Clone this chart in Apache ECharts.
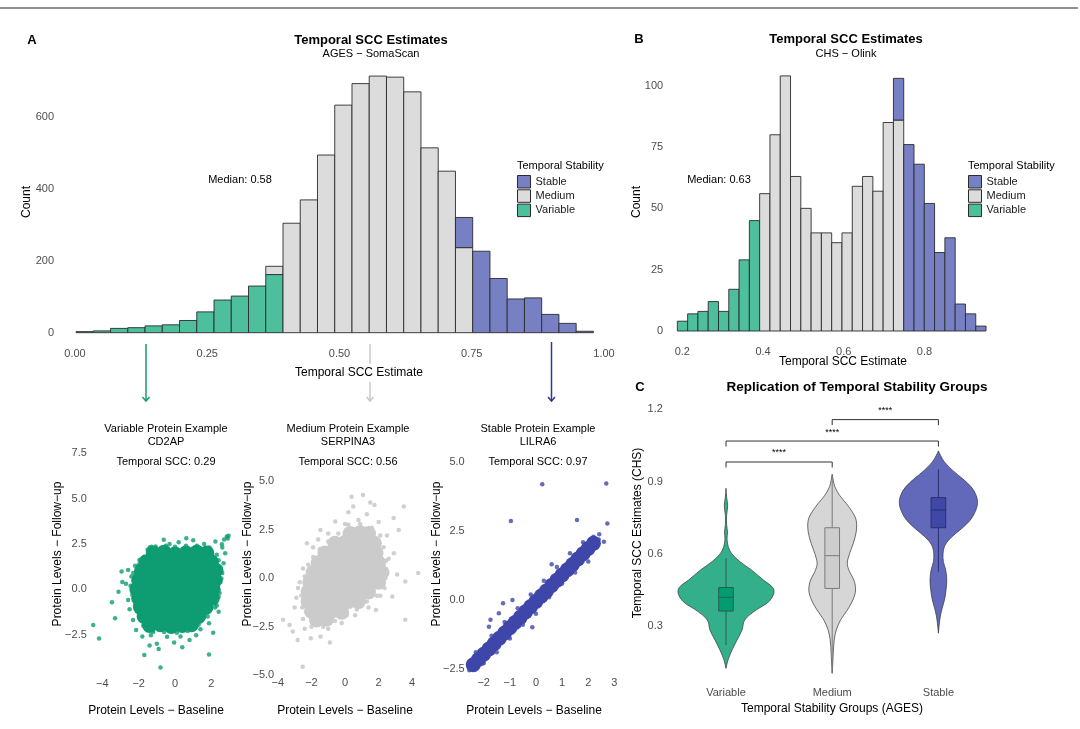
<!DOCTYPE html>
<html>
<head>
<meta charset="utf-8">
<script src="https://cdn.jsdelivr.net/npm/echarts@6/dist/echarts.min.js"></script>
<style>
  html, body { margin: 0; padding: 0; background: #fff; }
  #main { width: 1080px; height: 729px; }
</style>
</head>
<body>
<div id="main"></div>
<script>
var FONT = '"Liberation Sans", Arial, sans-serif';

// --- A: AGES SomaScan histogram (30 bins) ---
var aBinStart = 0.002, aBinWidth = 0.0326;
var aVariable = [3,5,12,14,19,22,34,58,91,102,130,162,0,0,0,0,0,0,0,0,0,0,0,0,0,0,0,0,0,0];
var aMedium   = [0,0,0,0,0,0,0,0,0,0,0,23,305,370,495,634,694,715,712,671,515,450,237,0,0,0,0,0,0,0];
var aStable   = [0,0,0,0,0,0,0,0,0,0,0,0,0,0,0,0,0,0,0,0,0,0,84,227,151,94,97,51,26,4];
var aXTicks = [0, 0.25, 0.5, 0.75, 1];
var aYTicks = [0, 200, 400, 600];

// --- B: CHS Olink histogram (30 bins) ---
var bBinStart = 0.1876, bBinWidth = 0.0255;
var bVariable = [4,7,8,12,8,17,29,45,0,0,0,0,0,0,0,0,0,0,0,0,0,0,0,0,0,0,0,0,0,0];
var bMedium   = [0,0,0,0,0,0,0,0,56,80,104,63,50,40,40,36,40,59,63,57,85,86,0,0,0,0,0,0,0,0];
var bStable   = [0,0,0,0,0,0,0,0,0,0,0,0,0,0,0,0,0,0,0,0,0,17,76,68,52,32,38,11,7,2];
var bXTicks = [0.2, 0.4, 0.6, 0.8];
var bYTicks = [0, 25, 50, 75, 100];

// --- example proteins: baseline vs follow-up ---
var varCore = [[-1.2,2.0],[-0.6,2.05],[0.0,1.95],[0.6,2.0],[1.2,2.05],[1.75,2.0],
  [-1.6,1.5],[-1.0,1.55],[-0.4,1.45],[0.2,1.5],[0.8,1.55],[1.4,1.5],[2.0,1.5],
  [-1.85,1.0],[-1.2,1.05],[-0.6,0.95],[0.0,1.0],[0.6,1.05],[1.2,0.95],[1.8,1.0],[2.25,1.05],
  [-2.0,0.5],[-1.4,0.55],[-0.8,0.45],[-0.2,0.5],[0.4,0.55],[1.0,0.45],[1.6,0.5],[2.2,0.5],
  [-2.1,0.0],[-1.5,0.05],[-0.9,-0.05],[-0.3,0.0],[0.3,0.05],[0.9,-0.05],[1.5,0.0],[2.1,0.0],
  [-2.0,-0.5],[-1.4,-0.45],[-0.8,-0.55],[-0.2,-0.5],[0.4,-0.45],[1.0,-0.55],[1.6,-0.5],[2.05,-0.5],
  [-1.9,-1.0],[-1.3,-0.95],[-0.7,-1.05],[-0.1,-1.0],[0.5,-0.95],[1.1,-1.05],[1.7,-1.0],
  [-1.7,-1.5],[-1.1,-1.45],[-0.5,-1.55],[0.1,-1.5],[0.7,-1.45],[1.3,-1.5],
  [-1.4,-2.0],[-0.8,-1.95],[-0.2,-2.05],[0.4,-2.0],[0.9,-1.95]];
var varEdge = [[-4.5,-1.97],[-4.18,-2.71],[-3.47,-0.72],[-3.11,-0.13],[-2.94,0.98],[-2.58,1.07],
  [-1.69,-3.63],[-0.8,-4.32],[1.87,-3.6],[2.4,-1.24],[2.76,1.99],[2.85,2.91],[2.7,2.75],[2.58,2.49],
  [2.22,2.64],[0.62,2.82],[-0.62,2.73],[-1.07,2.36],[-1.51,2.18],[-1.96,1.62],[-2.4,0.7],[-2.58,-0.59],
  [-2.31,-1.7],[-2.14,-2.25],[-1.33,-2.53],[-0.44,-2.62],[-0.05,-2.93],[0.8,-2.8],[1.16,-2.53],
  [1.87,-1.88],[2.4,-0.41],[2.67,1.44],[-2.7,0.3],[-2.5,-1.1],[-2.2,1.3],[-1.8,-2.6],[-1.0,-3.0],
  [0.3,-2.6],[1.4,-2.2],[2.2,-1.0],[2.5,0.4],[2.6,0.9],[2.3,1.9],[1.6,2.5],[1.0,2.7],[0.2,2.6],
  [-0.3,2.5],[-1.4,2.3],[2.9,2.8],[2.95,2.95],[2.6,2.3],[-3.3,-1.6],[-0.9,-3.3],[-1.4,-3.1],
  [0.4,-3.2],[2.1,-2.4],[-2.9,0.4],
  [-2.45,0.2],[-2.35,-0.3],[-2.3,0.9],[-2.2,-0.9],[-2.0,1.35],[-1.9,-1.5],[-1.7,1.8],[-1.75,-2.0],
  [-1.3,2.35],[-1.2,-2.35],[-0.5,2.4],[-0.6,-2.35],[0.0,2.35],[0.1,-2.4],[0.6,2.4],[0.7,-2.3],
  [1.2,2.4],[1.3,-1.95],[1.9,2.3],[1.8,-1.5],[2.4,1.6],[2.3,-0.9],[2.55,0.6],[2.45,-0.2],[2.5,1.2]];

var medCore = [[0.3,2.3],[0.9,2.35],[1.4,2.3],
  [-0.6,1.8],[0.0,1.85],[0.6,1.8],[1.2,1.75],[1.75,1.8],
  [-1.2,1.3],[-0.6,1.35],[0.0,1.3],[0.6,1.25],[1.2,1.3],[1.85,1.3],
  [-1.6,0.8],[-1.0,0.85],[-0.4,0.8],[0.2,0.75],[0.8,0.8],[1.4,0.85],[2.0,0.8],
  [-1.9,0.3],[-1.3,0.35],[-0.7,0.3],[-0.1,0.25],[0.5,0.3],[1.1,0.35],[1.7,0.3],[2.2,0.3],
  [-2.1,-0.2],[-1.5,-0.15],[-0.9,-0.2],[-0.3,-0.25],[0.3,-0.2],[0.9,-0.15],[1.5,-0.2],[2.0,-0.2],
  [-2.2,-0.7],[-1.6,-0.65],[-1.0,-0.7],[-0.4,-0.75],[0.2,-0.7],[0.8,-0.65],[1.4,-0.7],
  [-2.2,-1.2],[-1.6,-1.15],[-1.0,-1.2],[-0.4,-1.25],[0.2,-1.2],[0.8,-1.2],
  [-2.0,-1.7],[-1.4,-1.65],[-0.8,-1.7],[-0.2,-1.75],
  [-1.7,-2.15],[-1.1,-2.1]];
var medEdge = [[-3.69,-2.14],[-3.11,-2.74],[-2.52,-4.55],[-2.82,-3.17],[-2.27,1.8],[-1.46,2.49],
  [-0.58,2.92],[0.39,4.2],[1.07,4.29],[0.49,3.69],[1.75,3.77],[3.5,3.69],[3.2,2.49],[2.91,1.29],
  [3.59,-0.17],[4.36,0.27],[2.82,-0.94],[3.59,-2.14],[1.84,-1.63],[-1.46,-3.0],[-2.04,-3.09],
  [-3.3,-2.4],[-3.0,-1.5],[-2.8,-0.5],[-2.5,0.5],[-1.9,1.6],[-1.0,2.3],[0.0,2.8],[0.8,3.0],
  [1.3,3.3],[2.0,2.9],[2.5,2.2],[2.6,1.0],[2.4,0.0],[2.1,-0.9],[1.4,-1.5],[0.6,-1.9],[-0.2,-2.3],
  [-1.0,-2.6],[-2.4,-2.6],[-2.9,-1.0],[1.5,3.9],[2.9,3.1],[-0.9,-3.3],[3.1,0.2],[0.2,3.4],[-1.6,2.0],
  [-2.6,-0.9],[-2.55,-1.5],[-2.5,-2.1],[-2.4,0.1],[-2.2,0.7],[-1.9,1.1],[-1.5,1.5],[-1.0,1.9],
  [-0.4,2.3],[0.2,2.75],[0.9,2.8],[1.6,2.6],[2.1,2.2],[2.3,1.6],[2.45,0.9],[2.5,0.3],[2.35,-0.5],
  [1.9,-0.9],[1.3,-1.2],[0.7,-1.6],[0.1,-1.9],[-0.6,-2.2],[-1.3,-2.5],[-2.0,-2.5],[-2.7,-0.2]];

var stbCore = [[-2.4,-2.35],[-2.2,-2.16],[-2.0,-1.97],[-1.8,-1.78],[-1.6,-1.59],[-1.4,-1.39],
  [-1.2,-1.2],[-1.0,-1.01],[-0.8,-0.82],[-0.6,-0.63],[-0.4,-0.43],[-0.2,-0.24],[0.0,-0.05],
  [0.2,0.14],[0.4,0.33],[0.6,0.53],[0.8,0.72],[1.0,0.91],[1.2,1.1],[1.4,1.29],[1.6,1.49],
  [1.8,1.68],[2.0,1.87],[2.2,2.06]];
var stbEdge = [[0.24,4.2],[2.69,4.23],[-0.96,2.87],[1.57,2.9],[2.73,2.78],[2.42,2.39],[2.6,2.11],
  [2.04,1.69],[-1.26,-0.12],[-1.42,-0.48],[-1.74,-0.72],[-1.8,-0.97],[-0.14,-0.99],[-0.73,-0.91],
  [-2.49,-2.36],[-2.11,-2.23],[-2.55,-2.55],[-2.3,-1.9],[-2.0,-2.3],[-1.7,-1.3],[-1.5,-1.9],
  [-1.2,-0.8],[-1.0,-1.4],[-0.7,-0.3],[-0.5,-0.9],[-0.2,0.2],[0.0,-0.5],[0.3,0.7],[0.5,0.1],
  [0.8,1.2],[1.0,0.6],[1.3,1.7],[1.5,1.0],[1.8,2.1],[2.0,1.4],[2.2,2.3],[2.3,1.9],[2.4,2.2],
  [0.6,1.3],[-0.9,0.0]];

// --- C: violin profiles [SCC, half width as share of category band] and box stats ---
var groups = ['Variable', 'Medium', 'Stable'];
var violinVariable = [[0.124,0],[0.159,0.019],[0.2,0.057],[0.242,0.104],[0.283,0.151],[0.325,0.176],
  [0.366,0.283],[0.40,0.40],[0.435,0.45],[0.46,0.44],[0.491,0.352],[0.532,0.242],[0.567,0.132],
  [0.601,0.053],[0.629,0.022],[0.66,0.01],[0.69,0.014],[0.72,0.006],[0.76,0.006],[0.80,0.016],
  [0.835,0.006],[0.872,0]];
var violinMedium = [[0.104,0],[0.15,0.006],[0.187,0.01],[0.242,0.019],[0.283,0.038],[0.325,0.079],
  [0.366,0.142],[0.408,0.195],[0.449,0.22],[0.491,0.204],[0.525,0.164],[0.56,0.142],[0.601,0.164],
  [0.643,0.198],[0.691,0.226],[0.739,0.226],[0.774,0.189],[0.809,0.132],[0.843,0.069],[0.878,0.025],
  [0.905,0.01],[0.93,0]];
var violinStable = [[0.27,0],[0.325,0.013],[0.366,0.031],[0.408,0.057],[0.449,0.072],[0.491,0.079],
  [0.532,0.069],[0.567,0.047],[0.601,0.044],[0.636,0.063],[0.67,0.126],[0.705,0.22],[0.739,0.299],
  [0.774,0.346],[0.809,0.368],[0.843,0.355],[0.878,0.308],[0.912,0.226],[0.947,0.132],[0.981,0.057],
  [1.009,0.019],[1.027,0]];
var boxVariable = [0.221, 0.362, 0.419, 0.460, 0.581];
var boxMedium   = [0.104, 0.456, 0.592, 0.708, 0.925];
var boxStable   = [0.525, 0.708, 0.782, 0.833, 0.950];
// [from group, to group, bracket height]
var brackets = [[0, 1, 0.981], [0, 2, 1.068], [1, 2, 1.157]];
var cYTicks = [0.3, 0.6, 0.9, 1.2];

// --- helpers ---
function minus(s) { return String(s).replace('-', '\u2212'); }

function valueAxis(gi, min, max, ticks, margin, fmt) {
  return {
    type: 'value', gridIndex: gi, min: min, max: max,
    axisLine: { show: false }, axisTick: { show: false }, splitLine: { show: false },
    axisLabel: { customValues: ticks, margin: margin, color: '#4D4D4D', fontSize: 11,
      fontFamily: FONT, formatter: fmt }
  };
}

function addUp(a, b) { return a.map(function (v, i) { return v + b[i]; }); }

function histSeries(name, gi, start, width, counts, below, color) {
  var data = [];
  counts.forEach(function (c, i) {
    if (c > 0) data.push([start + i * width, start + (i + 1) * width, below[i], below[i] + c]);
  });
  return {
    type: 'custom', name: name, xAxisIndex: gi, yAxisIndex: gi, data: data,
    encode: { x: [0, 1], y: [2, 3] }, itemStyle: { color: color },
    renderItem: function (params, api) {
      var p0 = api.coord([api.value(0), api.value(2)]);
      var p1 = api.coord([api.value(1), api.value(3)]);
      return { type: 'rect', shape: { x: p0[0], y: p1[1], width: p1[0] - p0[0], height: p0[1] - p1[1] },
        style: { fill: color, stroke: '#2b2b2b', lineWidth: 0.9 } };
    }
  };
}

function scatter(gi, data, size, color, opacity) {
  return { type: 'scatter', xAxisIndex: gi, yAxisIndex: gi, data: data, symbolSize: size,
    itemStyle: { color: color, opacity: opacity }, silent: true };
}

var zeros = aVariable.map(function () { return 0; });
var GREEN = '#4DBF9D', GRAY = '#DCDCDC', BLUE = '#7880C4';

var violins = [violinVariable, violinMedium, violinStable];
var violinFill = ['#33B08B', '#D6D6D6', '#6269BB'];
var boxes = [boxVariable, boxMedium, boxStable];
var boxFill = ['#009C72', '#CDCDCD', '#3F48A6'];
var boxLine = ['#2f5e4f', '#7a7a7a', '#2a2f6e'];

function legendCfg(left) {
  return {
    left: left, top: 175, orient: 'vertical', padding: 0, itemWidth: 13, itemHeight: 12.5, itemGap: 0.8,
    icon: 'rect', selectedMode: false,
    textStyle: { fontSize: 11, fontFamily: FONT, color: '#1a1a1a' },
    data: [
      { name: 'Stable', itemStyle: { color: BLUE, borderColor: '#2b2b2b', borderWidth: 1 } },
      { name: 'Medium', itemStyle: { color: GRAY, borderColor: '#2b2b2b', borderWidth: 1 } },
      { name: 'Variable', itemStyle: { color: GREEN, borderColor: '#2b2b2b', borderWidth: 1 } }
    ]
  };
}

function txt(x, y, s, size, opts) {
  opts = opts || {};
  return {
    type: 'text', x: x, y: y, rotation: opts.rot || 0, silent: true,
    style: { text: s, fontFamily: FONT, fontSize: size, fontWeight: opts.bold ? 'bold' : 'normal',
      fill: opts.color || '#000', align: opts.align || 'center', verticalAlign: 'middle' }
  };
}

function arrow(x, y1, y2, color, gap) {
  var els = [];
  if (gap) {
    els.push({ type: 'line', shape: { x1: x, y1: y1, x2: x, y2: gap[0] }, style: { stroke: color, lineWidth: 1.5 } });
    els.push({ type: 'line', shape: { x1: x, y1: gap[1], x2: x, y2: y2 }, style: { stroke: color, lineWidth: 1.5 } });
  } else {
    els.push({ type: 'line', shape: { x1: x, y1: y1, x2: x, y2: y2 }, style: { stroke: color, lineWidth: 1.5 } });
  }
  els.push({ type: 'polyline', shape: { points: [[x - 3.5, y2 - 4], [x, y2], [x + 3.5, y2 - 4]] },
    style: { stroke: color, lineWidth: 1.5, fill: null } });
  return els;
}

var chart = echarts.init(document.getElementById('main'), null, { renderer: 'canvas' });

var PI2 = Math.PI / 2;
var graphics = [
  { type: 'line', shape: { x1: 0, y1: 8, x2: 1078, y2: 8 }, style: { stroke: '#6b6b6b', lineWidth: 1.5 } },
  txt(32, 40, 'A', 13, { bold: true }),
  txt(371, 40, 'Temporal SCC Estimates', 13, { bold: true }),
  txt(371, 54, 'AGES \u2212 SomaScan', 11),
  txt(27, 202, 'Count', 12, { rot: PI2 }),
  txt(359, 373, 'Temporal SCC Estimate', 12),
  txt(240, 180, 'Median: 0.58', 11),
  txt(517, 166, 'Temporal Stability', 11, { align: 'left' }),
  txt(639, 39, 'B', 13, { bold: true }),
  txt(846, 39, 'Temporal SCC Estimates', 13, { bold: true }),
  txt(846, 54, 'CHS \u2212 Olink', 11),
  txt(637, 202, 'Count', 12, { rot: PI2 }),
  txt(843, 362, 'Temporal SCC Estimate', 12),
  txt(719, 180, 'Median: 0.63', 11),
  txt(968, 166, 'Temporal Stability', 11, { align: 'left' }),
  txt(640, 387, 'C', 13, { bold: true }),
  txt(857, 387, 'Replication of Temporal Stability Groups', 13.5, { bold: true }),
  txt(638, 533, 'Temporal SCC Estimates (CHS)', 12, { rot: PI2 }),
  txt(832, 709, 'Temporal Stability Groups (AGES)', 12),
  // example panels
  txt(166, 429, 'Variable Protein Example', 11),
  txt(166, 442, 'CD2AP', 11),
  txt(166, 462, 'Temporal SCC: 0.29', 11),
  txt(156, 711, 'Protein Levels \u2212 Baseline', 12),
  txt(58, 554, 'Protein Levels \u2212 Follow\u2212up', 12, { rot: PI2 }),
  txt(348, 429, 'Medium Protein Example', 11),
  txt(348, 442, 'SERPINA3', 11),
  txt(348, 462, 'Temporal SCC: 0.56', 11),
  txt(345, 711, 'Protein Levels \u2212 Baseline', 12),
  txt(248, 554, 'Protein Levels \u2212 Follow\u2212up', 12, { rot: PI2 }),
  txt(538, 429, 'Stable Protein Example', 11),
  txt(538, 442, 'LILRA6', 11),
  txt(538, 462, 'Temporal SCC: 0.97', 11),
  txt(534, 711, 'Protein Levels \u2212 Baseline', 12),
  txt(437, 554, 'Protein Levels \u2212 Follow\u2212up', 12, { rot: PI2 })
].concat(arrow(146, 344, 401, '#169B72'))
 .concat(arrow(370, 344, 401, '#C9C9C9', [364, 382]))
 .concat(arrow(551.5, 342, 401, '#2E3A8F'));

var option = {
  animation: false,
  backgroundColor: '#fff',
  textStyle: { fontFamily: FONT },
  grid: [
    { left: 75, top: 63.5, width: 529, height: 269.2, outerBoundsMode: 'none' },
    { left: 666.2, top: 71, width: 330.9, height: 260, outerBoundsMode: 'none' },
    { left: 87.8, top: 447.9, width: 147.2, height: 229.3, outerBoundsMode: 'none' },
    { left: 276.2, top: 455.9, width: 149.4, height: 220.5, outerBoundsMode: 'none' },
    { left: 466.7, top: 454, width: 149, height: 222, outerBoundsMode: 'none' },
    { left: 672.9, top: 397.2, width: 318.6, height: 281.8, outerBoundsMode: 'none' }
  ],
  xAxis: [
    valueAxis(0, 0, 1, aXTicks, 16, function (v) { return v.toFixed(2); }),
    valueAxis(1, 0.16, 0.98, bXTicks, 15, function (v) { return v.toFixed(1); }),
    valueAxis(2, -4.8, 3.3, [-4, -2, 0, 2], 1, function (v) { return minus(v); }),
    valueAxis(3, -4.1, 4.8, [-4, -2, 0, 2, 4], 1, function (v) { return minus(v); }),
    valueAxis(4, -2.65, 3.05, [-2, -1, 0, 1, 2, 3], 1, function (v) { return minus(v); }),
    { type: 'category', gridIndex: 5, data: groups,
      axisLine: { show: false }, axisTick: { show: false }, splitLine: { show: false },
      axisLabel: { margin: 8, color: '#4D4D4D', fontSize: 11, fontFamily: FONT } }
  ],
  yAxis: [
    valueAxis(0, 0, 750, aYTicks, 21, function (v) { return String(v); }),
    valueAxis(1, 0, 106, bYTicks, 3, function (v) { return String(v); }),
    valueAxis(2, -4.85, 7.8, [-2.5, 0, 2.5, 5, 7.5], 1, function (v) { return minus(v.toFixed(1)); }),
    valueAxis(3, -5.05, 6.3, [-5, -2.5, 0, 2.5, 5], 2, function (v) { return minus(v.toFixed(1)); }),
    valueAxis(4, -2.76, 5.3, [-2.5, 0, 2.5, 5], 2, function (v) { return minus(v.toFixed(1)); }),
    valueAxis(5, 0.08, 1.25, cYTicks, 10, function (v) { return v.toFixed(1); })
  ],
  legend: [legendCfg(517), legendCfg(968)],
  graphic: graphics,
  series: [
    histSeries('Variable', 0, aBinStart, aBinWidth, aVariable, zeros, GREEN),
    histSeries('Medium', 0, aBinStart, aBinWidth, aMedium, aVariable, GRAY),
    histSeries('Stable', 0, aBinStart, aBinWidth, aStable, addUp(aVariable, aMedium), BLUE),
    histSeries('Variable', 1, bBinStart, bBinWidth, bVariable, zeros, GREEN),
    histSeries('Medium', 1, bBinStart, bBinWidth, bMedium, bVariable, GRAY),
    histSeries('Stable', 1, bBinStart, bBinWidth, bStable, addUp(bVariable, bMedium), BLUE),

    scatter(2, varCore, 15, '#0E9C72', 1),
    scatter(2, varEdge, 4.5, '#0E9C72', 0.8),
    scatter(3, medCore, 15, '#CBCBCB', 1),
    scatter(3, medEdge, 4.5, '#CBCBCB', 0.9),
    scatter(4, stbCore, 15, '#3E47A9', 1),
    scatter(4, stbEdge, 4.5, '#3E47A9', 0.8),

    { type: 'custom', name: 'violin', xAxisIndex: 5, yAxisIndex: 5,
      data: [[0, 0.5], [1, 0.5], [2, 0.5]], encode: { x: 0, y: 1 },
      renderItem: function (params, api) {
        var g = api.value(0), prof = violins[g];
        var band = api.size([1, 0])[0];
        var right = [], left = [];
        prof.forEach(function (p) {
          var c = api.coord([g, p[0]]);
          right.push([c[0] + p[1] * band, c[1]]);
          left.unshift([c[0] - p[1] * band, c[1]]);
        });
        return { type: 'polygon', shape: { points: right.concat(left), smooth: 0.35 },
          style: { fill: violinFill[g], stroke: '#333', lineWidth: 0.7 } };
      } },
    { type: 'custom', name: 'box', xAxisIndex: 5, yAxisIndex: 5,
      data: [[0, 0.5], [1, 0.5], [2, 0.5]], encode: { x: 0, y: 1 },
      renderItem: function (params, api) {
        var g = api.value(0), b = boxes[g];
        var band = api.size([1, 0])[0], hw = 0.069 * band;
        var lo = api.coord([g, b[0]]), q1 = api.coord([g, b[1]]), md = api.coord([g, b[2]]),
            q3 = api.coord([g, b[3]]), hi = api.coord([g, b[4]]);
        var x = lo[0], st = { stroke: boxLine[g], lineWidth: 1 };
        return { type: 'group', children: [
          { type: 'line', shape: { x1: x, y1: lo[1], x2: x, y2: q1[1] }, style: st },
          { type: 'line', shape: { x1: x, y1: q3[1], x2: x, y2: hi[1] }, style: st },
          { type: 'rect', shape: { x: x - hw, y: q3[1], width: 2 * hw, height: q1[1] - q3[1] },
            style: { fill: boxFill[g], stroke: boxLine[g], lineWidth: 1 } },
          { type: 'line', shape: { x1: x - hw, y1: md[1], x2: x + hw, y2: md[1] }, style: st }
        ] };
      } },
    { type: 'custom', name: 'signif', xAxisIndex: 5, yAxisIndex: 5,
      data: brackets, encode: { x: [0, 1], y: 2 },
      renderItem: function (params, api) {
        var a = api.coord([api.value(0), api.value(2)]);
        var b = api.coord([api.value(1), api.value(2)]);
        var drop = api.size([0, 0.023])[1];
        return { type: 'group', children: [
          { type: 'polyline', shape: { points: [[a[0], a[1] + drop], a, b, [b[0], b[1] + drop]] },
            style: { stroke: '#333', lineWidth: 1, fill: null } },
          { type: 'text', x: (a[0] + b[0]) / 2, y: a[1] - 9,
            style: { text: '****', fontFamily: FONT, fontSize: 9, fill: '#000',
              align: 'center', verticalAlign: 'middle' } }
        ] };
      } }
  ]
};

chart.setOption(option);
</script>
</body>
</html>
